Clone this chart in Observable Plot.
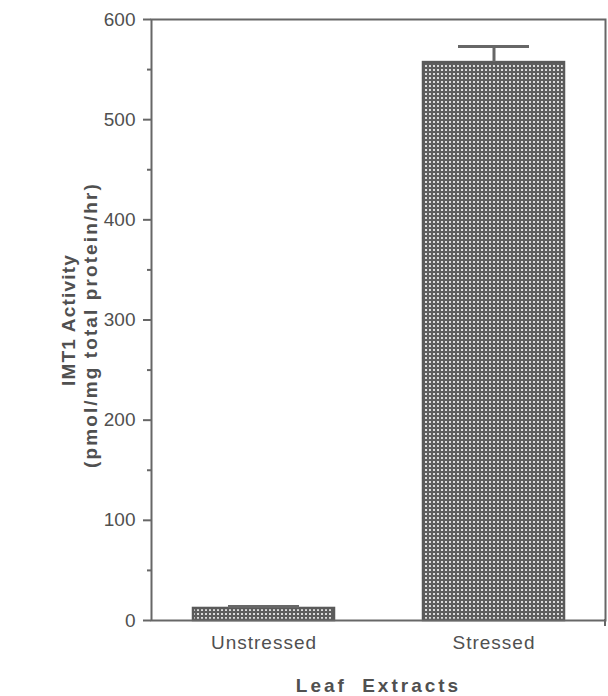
<!DOCTYPE html>
<html>
<head>
<meta charset="utf-8">
<script src="https://cdn.jsdelivr.net/npm/d3@7"></script>
<script src="https://cdn.jsdelivr.net/npm/@observablehq/plot@0.6"></script>
<style>
  html, body { margin: 0; padding: 0; background: #fff; overflow: hidden; }
  #chart svg { display: block; }
</style>
</head>
<body>
<div id="chart"></div>
<script>
// ---- data ----
const categories = ["Unstressed", "Stressed"];
const values = [12, 557];
const errors = [2, 16];
const yMajorTicks = [0, 100, 200, 300, 400, 500, 600];
const yMinorTicks = [50, 150, 250, 350, 450, 550];
const xTitle = "Leaf Extracts";
const yTitleLines = ["IMT1 Activity", "(pmol/mg total protein/hr)"];

const data = categories.map((c, i) => ({cat: c, value: values[i], top: values[i] + errors[i]}));

const ink = "#676767";
const textInk = "#505050";

// x-axis ticks at band boundaries and the right frame edge, from the band scale
function boundaryTicks(index, scales, channels, dims) {
  const x = scales.x;
  const bw = x.bandwidth;
  const xs = [];
  for (let i = 0; i < categories.length - 1; i++) {
    xs.push((x(categories[i]) + bw + x(categories[i + 1])) / 2);
  }
  xs.push(dims.width - dims.marginRight);
  const y0 = dims.height - dims.marginBottom;
  const g = d3.create("svg:g");
  g.selectAll("line").data(xs.filter(v => isFinite(v))).join("line")
    .attr("x1", d => d).attr("x2", d => d)
    .attr("y1", y0 - 1).attr("y2", y0 + 6)
    .attr("stroke", ink).attr("stroke-width", 2);
  return g.node();
}

const chart = Plot.plot({
  width: 608,
  height: 696,
  marginLeft: 151,
  marginRight: 3,
  marginTop: 19,
  marginBottom: 76,
  style: {
    fontFamily: "'Liberation Sans', Arial, Helvetica, sans-serif",
    fontSize: "19px",
    color: textInk,
    background: "#fff"
  },
  x: {domain: categories, paddingInner: 0.387, paddingOuter: 0.18, label: null},
  y: {domain: [0, 600], label: null},
  marks: [
    Plot.barY(data, {x: "cat", y: "value", fill: "url(#dotfill)", stroke: "#5a5a5a", strokeWidth: 2.5}),
    Plot.ruleX(data, {x: "cat", y1: "value", y2: "top", stroke: ink, strokeWidth: 3}),
    Plot.tickY(data, {x: "cat", y: "top", insetLeft: 35, insetRight: 35, stroke: ink, strokeWidth: 3}),
    Plot.frame({stroke: ink, strokeWidth: 2}),
    Plot.axisY({ticks: yMajorTicks, tickSize: 8, tickPadding: 8, stroke: ink, strokeWidth: 2, fill: textInk, fontSize: 19, label: null}),
    Plot.axisY({ticks: yMinorTicks, tickSize: 4, text: null, stroke: ink, strokeWidth: 2, label: null}),
    Plot.axisX({tickSize: 0, tickPadding: 15, fill: textInk, fontSize: 19, label: null}),
    boundaryTicks,
    Plot.text([xTitle], {text: d => d, frameAnchor: "bottom", dy: 65, lineAnchor: "middle", fontWeight: "bold", fontSize: 19, fill: textInk}),
    Plot.text([yTitleLines[0]], {text: d => d, frameAnchor: "left", textAnchor: "middle", dx: -83, dy: 0, rotate: -90, fontWeight: "bold", fontSize: 19, fill: textInk}),
    Plot.text([yTitleLines[1]], {text: d => d, frameAnchor: "left", textAnchor: "middle", dx: -61, dy: 5, rotate: -90, fontWeight: "bold", fontSize: 19, fill: textInk})
  ]
});

// letter spacing as in the scanned figure
d3.select(chart).selectAll("text").each(function() {
  const t = this.textContent;
  const s = d3.select(this);
  if (t === xTitle) s.attr("letter-spacing", 3).attr("word-spacing", 7);
  else if (t === yTitleLines[0]) s.attr("letter-spacing", 1.2);
  else if (t === yTitleLines[1]) s.attr("letter-spacing", 2.1);
  else if (categories.includes(t)) s.attr("letter-spacing", 1);
});

// dotted fill pattern for the bars
const defs = d3.select(chart).insert("defs", ":first-child");
const pat = defs.append("pattern")
  .attr("id", "dotfill")
  .attr("patternUnits", "userSpaceOnUse")
  .attr("width", 4).attr("height", 4);
pat.append("rect").attr("width", 4).attr("height", 4).attr("fill", "#5e5e5e");
pat.append("rect").attr("x", 1).attr("y", 1).attr("width", 2).attr("height", 2).attr("fill", "#dcdcdc");

document.getElementById("chart").appendChild(chart);
</script>
</body>
</html>
